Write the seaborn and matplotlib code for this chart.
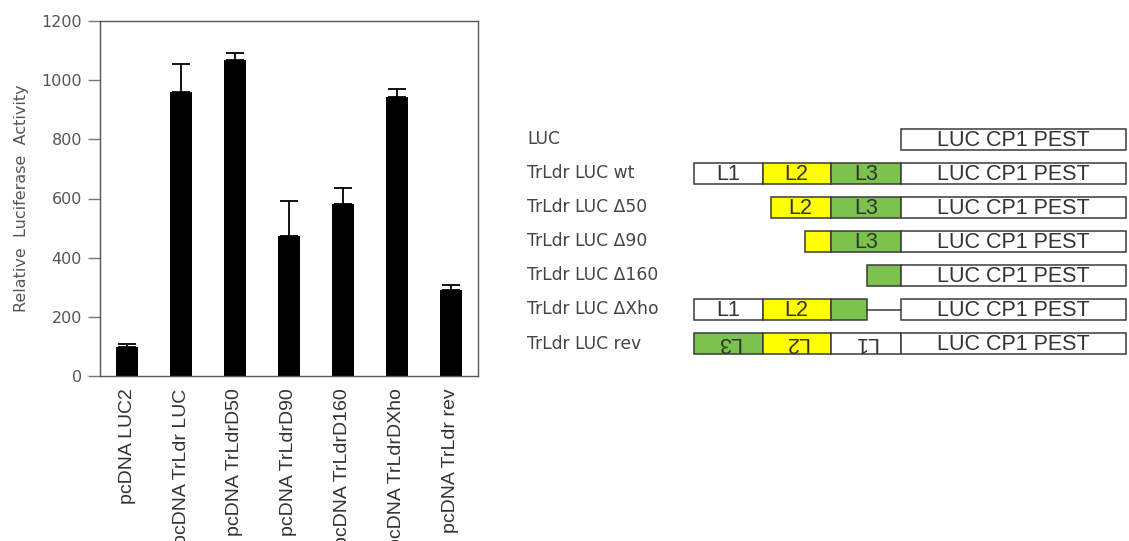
import numpy as np
import pandas as pd
import matplotlib
matplotlib.use("Agg")
import matplotlib.pyplot as plt
import seaborn as sns

# ---- luciferase assay data ----
samples = ["pcDNA LUC2", "pcDNA TrLdr LUC", "pcDNA TrLdrD50", "pcDNA TrLdrD90",
           "pcDNA TrLdrD160", "pcDNA TrLdrDXho", "pcDNA TrLdr rev"]
activity = [99, 961, 1068, 474, 581, 943, 290]
activity_sd = [8, 94, 23, 116, 55, 27, 17]
y_ticks = [0, 200, 400, 600, 800, 1000, 1200]

# ---- construct map (segment coordinates along the leader, nt-like units) ----
constructs = ["LUC", "TrLdr LUC wt", "TrLdr LUC \u039450", "TrLdr LUC \u039490",
              "TrLdr LUC \u0394160", "TrLdr LUC \u0394Xho", "TrLdr LUC rev"]
# (start, end, label, region, reversed)
segments = [
    [(207, 432.5, "LUC CP1 PEST", "LUC", False)],
    [(0, 69, "L1", "L1", False), (69, 137.5, "L2", "L2", False),
     (137.5, 207, "L3", "L3", False), (207, 432.5, "LUC CP1 PEST", "LUC", False)],
    [(77, 137.5, "L2", "L2", False), (137.5, 207, "L3", "L3", False),
     (207, 432.5, "LUC CP1 PEST", "LUC", False)],
    [(111, 137.5, "", "L2", False), (137.5, 207, "L3", "L3", False),
     (207, 432.5, "LUC CP1 PEST", "LUC", False)],
    [(173, 207, "", "L3", False), (207, 432.5, "LUC CP1 PEST", "LUC", False)],
    [(0, 69, "L1", "L1", False), (69, 137.5, "L2", "L2", False),
     (137.5, 173, "", "L3", False), (207, 432.5, "LUC CP1 PEST", "LUC", False)],
    [(0, 69, "L3", "L3", True), (69, 137.5, "L2", "L2", True),
     (137.5, 207, "L1", "L1", True), (207, 432.5, "LUC CP1 PEST", "LUC", False)],
]
# deleted stretch joined by a line (row, start, end)
linkers = [(5, 173, 207)]

region_colors = {"L1": "white", "L2": "#ffff00", "L3": "#7cc24e", "LUC": "white"}

sns.set_theme(style="white")
plt.rcParams["font.family"] = ["DejaVu Sans"]

fig = plt.figure(figsize=(11.29, 5.41), dpi=100)
fig.patch.set_facecolor("white")

# ---- bar chart ----
ax = fig.add_axes([100 / 1129, 1 - 376 / 541, 378 / 1129, 355 / 541])
df = pd.DataFrame({"sample": samples, "activity": activity})
sns.barplot(data=df, x="sample", y="activity", order=samples, color="black",
            saturation=1, width=0.42, errorbar=None, linewidth=0, ax=ax)
xpos = np.arange(len(samples))
ax.errorbar(xpos, activity, yerr=[np.zeros(len(activity)), activity_sd], fmt="none",
            ecolor="black", elinewidth=1.3, capsize=6.5, capthick=1.3, zorder=3)

ax.set_xlim(-0.5, len(samples) - 0.5)
ax.set_ylim(0, 1200)
ax.set_yticks(y_ticks)
ax.set_yticklabels([str(t) for t in y_ticks], fontsize=11.5, color="#555555")
ax.set_xticks(xpos)
ax.set_xticklabels(samples, rotation=90, fontsize=14, color="#333333",
                   fontfamily="Liberation Sans")
ax.tick_params(axis="y", direction="out", length=9, width=1, color="#777777", pad=4,
               left=True)
ax.tick_params(axis="x", length=0, pad=9)
ax.set_xlabel("")
ax.set_ylabel("Relative  Luciferase  Activity", fontsize=11.5, color="#555555",
              labelpad=9)
for s in ax.spines.values():
    s.set_visible(True)
    s.set_color("#555555")
    s.set_linewidth(1)

# ---- construct map ----
x0 = 693.5
ax2 = fig.add_axes([510 / 1129, 1 - 360 / 541, 619 / 1129, 240 / 541])
ax2.set_xlim(510 - x0, 1129 - x0)
ax2.set_ylim((360 - 139.5) / 34, (120 - 139.5) / 34)
ax2.axis("off")

box_h = 0.6
for row, (name, segs) in enumerate(zip(constructs, segments)):
    ax2.text(527 - x0, row, name, ha="left", va="center", fontsize=12.3,
             color="#444444")
    for start, end, label, region, rev in segs:
        ax2.barh(row, end - start, left=start, height=box_h,
                 color=region_colors[region], edgecolor="#3a3a3a", linewidth=1.1)
        if label:
            ax2.text((start + end) / 2, row + (0.02 if not rev else -0.02), label,
                     ha="center", va="center", fontsize=15.5,
                     fontfamily="Liberation Sans", color="#333333",
                     rotation=180 if rev else 0)
for row, start, end in linkers:
    ax2.plot([start, end], [row, row], color="#3a3a3a", linewidth=1.1)

fig.savefig("out.png", dpi=100, facecolor="white")
